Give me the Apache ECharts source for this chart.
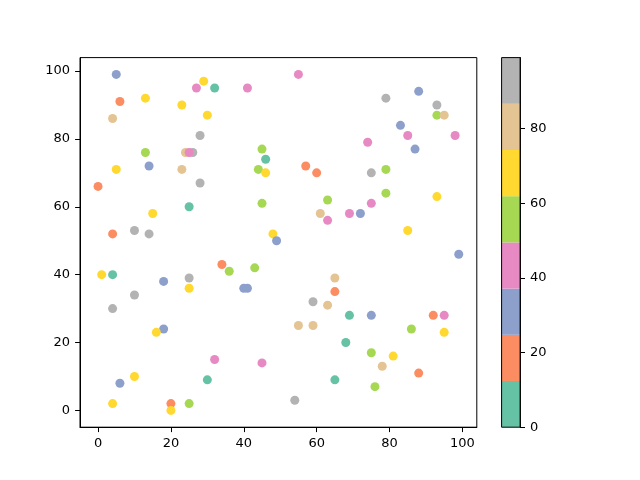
<!DOCTYPE html>
<html>
<head>
<meta charset="utf-8">
<script src="https://cdn.jsdelivr.net/npm/echarts@6/dist/echarts.min.js"></script>
<style>html,body{margin:0;padding:0;background:#fff}#c{width:640px;height:480px}</style>
</head>
<body>
<div id="c"></div>
<script>
// Set2 colormap, 8 discrete classes over [0, 99]
const cmapColors = ['#66c2a5','#fc8d62','#8da0cb','#e78ac3','#a6d854','#ffd92f','#e5c494','#b3b3b3'];
const cMin = 0, cMax = 99;
// representative colour value per class
// teal 6, orange 19, blue 31, pink 43, green 56, yellow 68, tan 80, gray 93
const xs = [5,29,27,32,41,6,13,23,4,30,28,13,24,26,25,45,46,14,5,23,44,46,0,28,25,45,15,4,10,14,48,49,
  55,88,79,93,93,95,83,85,98,87,74,57,60,75,79,79,63,93,75,61,63,69,72,85,
  1,4,34,36,43,18,25,25,40,41,10,4,18,16,32,45,30,10,6,4,20,20,25,
  99,65,65,59,63,69,75,92,95,55,59,86,95,68,75,81,78,88,65,76,54];
const ys = [99,97,95,95,95,91,92,90,86,87,81,76,76,76,76,77,74,72,71,71,71,70,66,67,60,61,58,52,53,52,52,50,
  99,94,92,90,87,87,84,81,81,77,79,72,70,70,71,64,62,63,61,58,56,58,58,53,
  40,40,43,41,42,38,39,36,36,36,34,30,24,23,15,14,9,10,8,2,2,0,2,
  46,39,35,32,31,28,28,28,28,25,25,24,23,20,17,16,13,11,9,7,3];
const cs = [31,68,43,6,43,19,68,68,80,68,93,56,80,93,43,56,6,31,68,80,56,68,19,93,6,56,68,19,93,93,68,31,
  43,31,93,93,56,80,31,43,43,31,43,19,19,93,56,56,56,68,43,80,43,43,31,68,
  68,6,19,56,56,31,93,68,31,31,93,93,31,68,43,43,6,68,31,68,19,68,56,
  31,80,19,93,80,6,31,19,43,80,80,56,68,6,56,68,80,19,6,56,93];
const xTicks = [0,20,40,60,80,100];
const yTicks = [0,20,40,60,80,100];
const cTicks = [0,20,40,60,80];

const pts = xs.map((x,i)=>[x, ys[i], cs[i]]);
const nBands = cmapColors.length;
const bandH = (cMax - cMin) / nBands;
const pieces = cmapColors.map((col,i)=>({gte: cMin + i*bandH, lt: cMin + (i+1)*bandH + (i===nBands-1?1:0), color: col}));

const font = 'DejaVu Sans';
const lab = {color:'#000', fontFamily: font, fontSize: 13};

const bandSeries = cmapColors.map((col,i)=>({
  type:'bar', xAxisIndex:1, yAxisIndex:1, stack:'cb', data:[bandH],
  barWidth:'100%', itemStyle:{color:col}, silent:true, animation:false
}));

const chart = echarts.init(document.getElementById('c'), null, {renderer:'canvas'});
chart.setOption({
  animation:false,
  backgroundColor:'#fff',
  grid:[
    {left:80, top:57.6, width:396.8, height:369.6, show:true, borderColor:'#000', borderWidth:1, backgroundColor:'transparent'},
    {left:501.6, top:57.6, width:18.5, height:369.6, show:true, borderColor:'#000', borderWidth:1, backgroundColor:'transparent', z:10}
  ],
  visualMap:{show:false, type:'piecewise', seriesIndex:0, dimension:2, pieces:pieces},
  xAxis:[
    {type:'value', gridIndex:0, min:-4.95, max:103.95,
     axisLine:{show:true, onZero:false, lineStyle:{color:'#000'}},
     axisTick:{show:true, inside:false, length:4.9, lineStyle:{color:'#000'}, customValues:xTicks},
     axisLabel:Object.assign({margin:10, customValues:xTicks}, lab),
     splitLine:{show:false}},
    {type:'category', gridIndex:1, data:['c'], show:false, boundaryGap:true}
  ],
  yAxis:[
    {type:'value', gridIndex:0, min:-4.95, max:103.95,
     axisLine:{show:true, onZero:false, lineStyle:{color:'#000'}},
     axisTick:{show:true, inside:false, length:4.9, lineStyle:{color:'#000'}, customValues:yTicks},
     axisLabel:Object.assign({margin:10, customValues:yTicks}, lab),
     splitLine:{show:false}},
    {type:'value', gridIndex:1, min:cMin, max:cMax, position:'right',
     axisLine:{show:true, lineStyle:{color:'#000'}},
     axisTick:{show:true, inside:false, length:4.9, lineStyle:{color:'#000'}, customValues:cTicks},
     axisLabel:Object.assign({margin:10, customValues:cTicks}, lab),
     splitLine:{show:false}}
  ],
  series:[
    {type:'scatter', xAxisIndex:0, yAxisIndex:0, data:pts, symbolSize:9,
     itemStyle:{opacity:1}, silent:true, animation:false}
  ].concat(bandSeries)
});
</script>
</body>
</html>
